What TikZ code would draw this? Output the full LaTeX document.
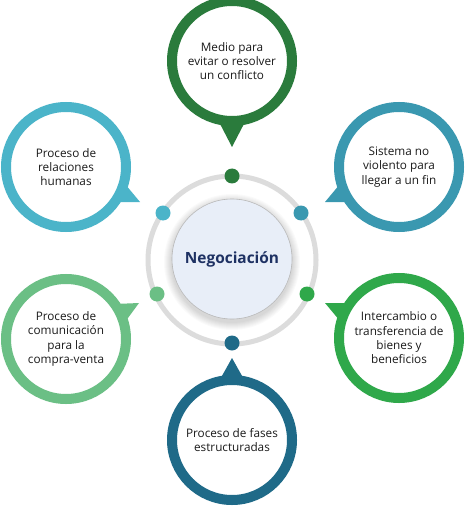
\documentclass[tikz,border=0pt]{standalone}
\usepackage{fontspec}
\setmainfont{Open Sans}
\usetikzlibrary{calc}
\definecolor{leaf}{HTML}{2A7B3C}
\definecolor{sea}{HTML}{3A98B0}
\definecolor{sky}{HTML}{4BB4C9}
\definecolor{mint}{HTML}{6BBF85}
\definecolor{grass}{HTML}{2FA84A}
\definecolor{deep}{HTML}{1F6A88}
\definecolor{track}{HTML}{DCDCDC}
\definecolor{corefill}{HTML}{E8EEF8}
\definecolor{navy}{HTML}{1E3163}
\definecolor{ink}{HTML}{1A1A1A}
\newcommand{\BubSize}{120bp}

\begin{document}
\begin{tikzpicture}[x=1bp, y=-1bp, font=\fontsize{11.8}{14.4}\selectfont, ink,
    bubble/.style={circle, draw=#1, line width=10bp, fill=white, minimum size=\BubSize, inner sep=0pt, align=center},
    hub/.style={circle, draw=gray!55, line width=0.6bp, fill=corefill, minimum size=120bp, text=navy, font=\fontsize{15.5}{18}\selectfont\bfseries},
    dot/.style={circle, fill=#1, inner sep=0pt, minimum size=15bp},
  ]
% --- Background --------------------------------------------------------------------
\fill[white] (0,0) rectangle (465,506);
\useasboundingbox (0,0) rectangle (465,506);

% --- Centre: track, shadow, core ---------------------------------------------------
\draw[track, line width=5bp] (232,260) circle (84);
\foreach \r in {1,...,8}
  \fill[black, opacity=0.02] (232,262) circle (60+\r);
\node[hub] (core) at (232,259) {Negociación};

% --- Dots on the track -------------------------------------------------------------
\foreach \n/\x/\y/\c in {dtop/232/176/leaf, dur/301/213/sea, dul/163/213/sky,
                          dll/157/294/mint, dlr/307/294/grass, dbot/232/343/deep}
  \node[dot=\c] (\n) at (\x,\y) {};

% --- Bubbles -------------------------------------------------------------------------
\node[bubble=leaf] (medio) at (232,61) {Medio para\\evitar o resolver\\un conflicto};
\node[bubble=sea] (sistema) at (399,167) {Sistema no\\violento para\\llegar a un fin};
\node[bubble=sky] (relaciones) at (66,167) {Proceso de\\relaciones\\humanas};
\node[bubble=grass] (intercambio) at (399,338) {Intercambio o\\transferencia de\\bienes y\\beneficios};
\node[bubble=mint] (comunicacion) at (66,339) {Proceso de\\comunicación\\para la\\compra-venta};
\node[bubble=deep] (fases) at (232,440) {Proceso de fases\\estructuradas};

% --- Tails (drawn last) ---------------------------------------------------------------
\fill[leaf] ($(medio)+(-14,59)$) -- ($(medio)+(0,86)$) -- ($(medio)+(14,59)$) -- cycle;
\fill[deep] ($(fases)+(-14,-57)$) -- ($(fases)+(0,-82)$) -- ($(fases)+(14,-57)$) -- cycle;
\fill[sea] ($(sistema)+(-59,17)$) -- ($(sistema)+(-74,35)$) -- ($(sistema)+(-49,35)$) -- cycle;
\fill[grass] ($(intercambio)+(-59,-17)$) -- ($(intercambio)+(-74,-35)$) -- ($(intercambio)+(-49,-35)$) -- cycle;
\fill[sky] ($(relaciones)+(59,17)$) -- ($(relaciones)+(74,35)$) -- ($(relaciones)+(49,35)$) -- cycle;
\fill[mint] ($(comunicacion)+(59,-17)$) -- ($(comunicacion)+(73,-36)$) -- ($(comunicacion)+(49,-35)$) -- cycle;
\end{tikzpicture}
\end{document}
